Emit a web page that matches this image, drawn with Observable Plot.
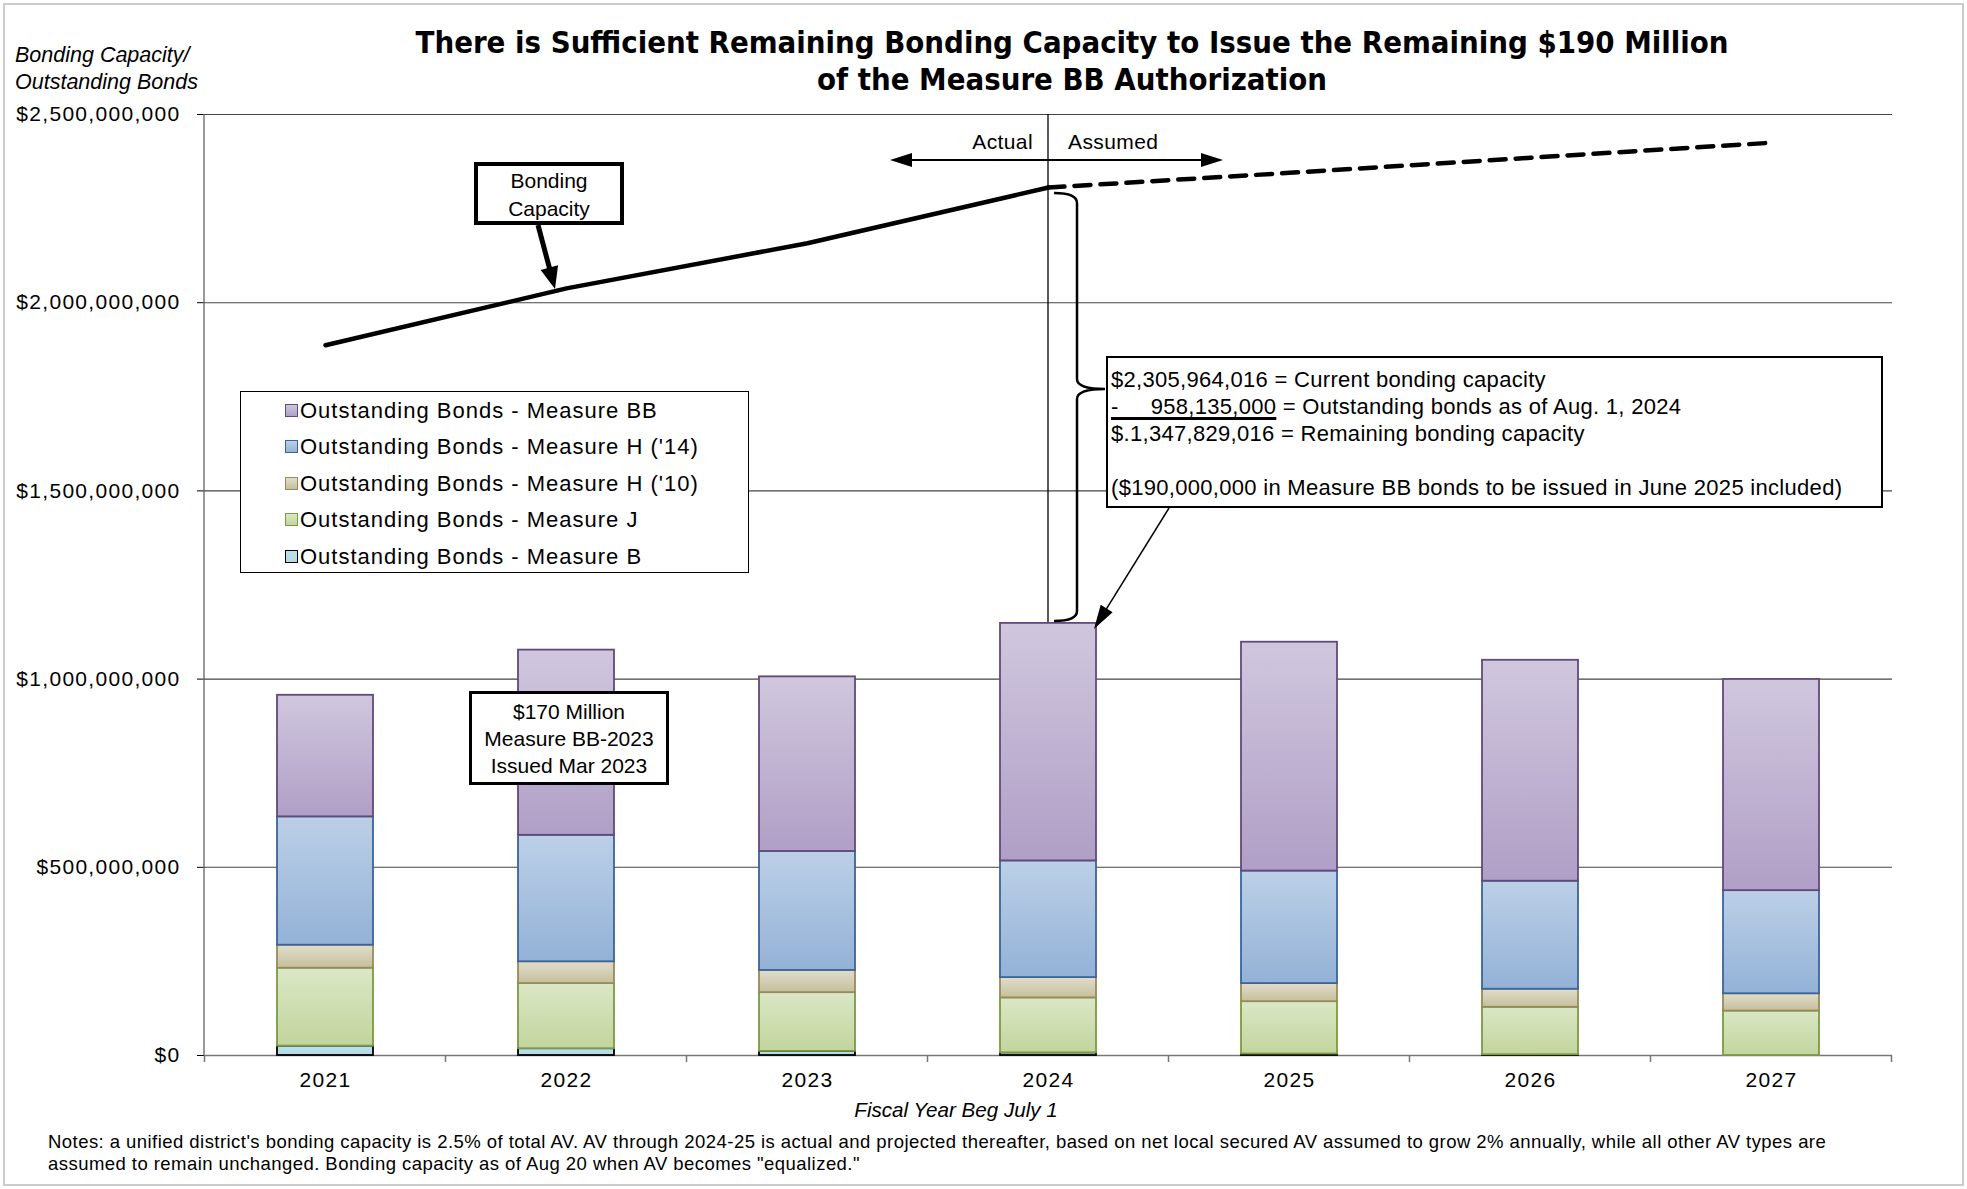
<!DOCTYPE html>
<html>
<head>
<meta charset="utf-8">
<script src="https://cdn.jsdelivr.net/npm/d3@7"></script>
<script src="https://cdn.jsdelivr.net/npm/@observablehq/plot@0.6"></script>
<style>
html, body { margin: 0; padding: 0; background: #fff; }
#wrap { position: relative; width: 1967px; height: 1189px; overflow: hidden; background: #fff;
  font-family: "Liberation Sans", Arial, sans-serif; color: #000; }
#wrap > svg { position: absolute; left: 0; top: 0; }
.frame { position: absolute; left: 3px; top: 3px; right: 3px; bottom: 3px; border: 2px solid #cccccc; pointer-events: none; }
.title { position: absolute; left: 372px; top: 24px; width: 1400px; text-align: center;
  font-family: "Liberation Sans Narrow", "DejaVu Sans Condensed", sans-serif; font-weight: bold; font-size: 30.8px; line-height: 37px; }
.ylabel { position: absolute; left: 15px; top: 42px; font-style: italic; font-size: 21.5px; line-height: 27px; }
.xlabel { position: absolute; left: 756px; width: 400px; text-align: center; top: 1097px; font-style: italic; font-size: 20.6px; line-height: 26px; }
.notes { position: absolute; left: 48px; top: 1131px; font-size: 18.5px; letter-spacing: 0.45px; line-height: 22px; white-space: nowrap; }
.box { position: absolute; box-sizing: border-box; background: #fff; border: 2.5px solid #000; }
.legend { font-size: 22px; letter-spacing: 1px; }
.legend .row { position: absolute; left: 44px; height: 36px; line-height: 36px; white-space: nowrap; }
.legend .sw { display: inline-block; width: 11px; height: 11px; border: 1.5px solid; margin-right: 2px; vertical-align: 1px; }
.calc { font-size: 22px; line-height: 27px; padding: 8px 0 0 3px; white-space: pre; letter-spacing: 0.3px; }
.calc .ul { text-decoration: underline; text-decoration-thickness: 3px; text-underline-offset: 3px; }
.issue { font-size: 21px; line-height: 27px; text-align: center; padding-top: 4px; border-width: 3px; }
.cap { font-size: 21px; line-height: 27.5px; text-align: center; padding-top: 1px; border-width: 4px; }
</style>
</head>
<body>
<div id="wrap"></div>
<script>
// ---------------- data ----------------
const years = ["2021", "2022", "2023", "2024", "2025", "2026", "2027"];
// Outstanding bonds by measure, $ millions
const measureB   = [25, 18, 11, 7, 4, 2, 0];
const measureJ   = [207, 173, 156, 146, 139, 126, 118];
const measureH10 = [61, 58, 59, 54, 48, 48, 46];
const measureH14 = [341, 336, 316, 310, 299, 287, 274];
const measureBB  = [323, 492, 464, 631, 608, 587, 561];
// Bonding capacity, $ millions
const capacityActual  = [1887, 2038, 2158, 2306];   // 2021-2024
const capacityAssumed = [2306, 2345, 2385, 2425];   // 2024-2027
const seriesLabels = [
  "Outstanding Bonds - Measure BB",
  "Outstanding Bonds - Measure H ('14)",
  "Outstanding Bonds - Measure H ('10)",
  "Outstanding Bonds - Measure J",
  "Outstanding Bonds - Measure B"
];
const yTicks = [0, 500e6, 1000e6, 1500e6, 2000e6, 2500e6];

const titleLines = ["There is Sufficient Remaining Bonding Capacity to Issue the Remaining $190 Million",
                    "of the Measure BB Authorization"];
const yLabelLines = ["Bonding Capacity/", "Outstanding Bonds"];
const xLabel = "Fiscal Year Beg July 1";
const notesLines = ["Notes: a unified district's bonding capacity is 2.5% of total AV. AV through 2024-25 is actual and projected thereafter, based on net local secured AV assumed to grow 2% annually, while all other AV types are",
                    "assumed to remain unchanged. Bonding capacity as of Aug 20 when AV becomes \"equalized.\""];
const calcLines = ["$2,305,964,016 = Current bonding capacity",
                   ["-     958,135,000", " = Outstanding bonds as of Aug. 1, 2024"],
                   "$.1,347,829,016 = Remaining bonding capacity",
                   "",
                   "($190,000,000 in Measure BB bonds to be issued in June 2025 included)"];
const issueLines = ["$170 Million", "Measure BB-2023", "Issued Mar 2023"];
const capLines = ["Bonding", "Capacity"];

// ---------------- styles ----------------
const seriesStyle = {
  BB:  {id: "gBB",  top: "#D0C7DE", bottom: "#B09FC6", stroke: "#604A7B"},
  H14: {id: "gH14", top: "#BCD0E7", bottom: "#93B2D7", stroke: "#3B649A"},
  H10: {id: "gH10", top: "#E1DDCB", bottom: "#C6BF9C", stroke: "#968B59"},
  J:   {id: "gJ",   top: "#DBE7C6", bottom: "#C2D59D", stroke: "#7C9A42"},
  B:   {id: "gB",   top: "#BBE0EA", bottom: "#B2DAE5", stroke: "#000000"}
};
// bottom -> top stacking order
const stackOrder = [["B", measureB, 4], ["J", measureJ, 3], ["H10", measureH10, 2], ["H14", measureH14, 1], ["BB", measureBB, 0]];

const table = [];
years.forEach((yr, i) => {
  for (const [key, arr, li] of stackOrder) table.push({year: yr, key, series: seriesLabels[li], value: arr[i] * 1e6});
});
const capActualRows = capacityActual.map((v, i) => ({year: years[i], value: v * 1e6}));
const capAssumedRows = capacityAssumed.map((v, i) => ({year: years[i + 3], value: v * 1e6}));
const totals = years.map((yr, i) => d3.sum(stackOrder, ([, arr]) => arr[i]) * 1e6);

// layout of annotation boxes (pixels)
const LAY = {
  legend: {left: 240, top: 391, width: 509, height: 182},
  calc:   {left: 1106, top: 356, width: 777, height: 152},
  issue:  {left: 469, top: 691, width: 200, height: 94},
  cap:    {left: 474, top: 162, width: 150, height: 63}
};

function arrowTo(g, x0, y0, x1, y1, w, hl, hw) {
  const dx = x1 - x0, dy = y1 - y0, len = Math.hypot(dx, dy), ux = dx / len, uy = dy / len;
  const bx = x1 - ux * hl, by = y1 - uy * hl;
  g.append("line").attr("x1", x0).attr("y1", y0).attr("x2", bx + ux * 1).attr("y2", by + uy * 1)
    .attr("stroke", "#000").attr("stroke-width", w);
  g.append("path").attr("d", `M${x1},${y1}L${bx - uy * hw},${by + ux * hw}L${bx + uy * hw},${by - ux * hw}Z`).attr("fill", "#000");
}

function annotations(index, scales, values, dimensions) {
  const {x, y} = scales;
  const bw = x.bandwidth(), step = x.step();
  const g = d3.create("svg:g");
  // gradients
  const defs = g.append("defs");
  for (const s of Object.values(seriesStyle)) {
    const lg = defs.append("linearGradient").attr("id", s.id).attr("x1", 0).attr("y1", 0).attr("x2", 0).attr("y2", 1);
    lg.append("stop").attr("offset", "0%").attr("stop-color", s.top);
    lg.append("stop").attr("offset", "100%").attr("stop-color", s.bottom);
  }
  const y0 = y(0), yTop = y(yTicks[yTicks.length - 1]);
  // left axis line
  g.append("line").attr("x1", dimensions.marginLeft).attr("x2", dimensions.marginLeft)
    .attr("y1", yTop).attr("y2", y0).attr("stroke", "#777").attr("stroke-width", 1.5);
  // x tick marks at band boundaries
  years.forEach((yr, i) => {
    const b = x(yr) - (step - bw) / 2;
    g.append("line").attr("x1", b).attr("x2", b).attr("y1", y0).attr("y2", y0 + 7).attr("stroke", "#777").attr("stroke-width", 1.5);
    if (i === years.length - 1) {
      const e = b + step;
      g.append("line").attr("x1", e).attr("x2", e).attr("y1", y0).attr("y2", y0 + 7).attr("stroke", "#777").attr("stroke-width", 1.5);
    }
  });
  return g.node();
}

function overlay(index, scales) {
  const {x, y} = scales;
  const bw = x.bandwidth();
  const cx = yr => x(yr) + bw / 2;
  const g = d3.create("svg:g");
  const c = cx("2024");
  const yTop = y(yTicks[yTicks.length - 1]);
  const capY = y(capacityActual[3] * 1e6);
  const barTop = y(totals[3]);
  // Actual / Assumed divider
  g.append("line").attr("x1", c).attr("x2", c).attr("y1", yTop).attr("y2", barTop - 1).attr("stroke", "#000").attr("stroke-width", 1.3);
  const ay = yTop + 46;
  arrowTo(g, c, ay, c - 158, ay, 2, 22, 7);
  arrowTo(g, c, ay, c + 175, ay, 2, 22, 7);
  g.append("text").attr("x", c - 15).attr("y", ay - 11).attr("text-anchor", "end").attr("font-size", 21).attr("letter-spacing", 0.4).text("Actual");
  g.append("text").attr("x", c + 20).attr("y", ay - 11).attr("text-anchor", "start").attr("font-size", 21).attr("letter-spacing", 0.4).text("Assumed");
  // brace from capacity down to 2024 bar top
  const t = capY + 6, b = barTop - 2, m = LAY.calc.top + 33, bx = c + 29, tip = LAY.calc.left - 1;
  g.append("path").attr("fill", "none").attr("stroke", "#000").attr("stroke-width", 2.5)
    .attr("d", `M${c + 6},${t}Q${bx},${t} ${bx},${t + 10}L${bx},${m - 10}Q${bx},${m} ${tip},${m}` +
               `M${tip},${m}Q${bx},${m} ${bx},${m + 10}L${bx},${b - 10}Q${bx},${b} ${c + 6},${b}`);
  // arrow from calc box to 2024 bar top
  arrowTo(g, LAY.calc.left + 63, LAY.calc.top + LAY.calc.height, c + bw / 2 - 2, barTop + 6, 1.5, 24, 7);
  // bonding capacity label arrow
  arrowTo(g, LAY.cap.left + 64, LAY.cap.top + LAY.cap.height, cx("2022") - 11, y(capacityActual[1] * 1e6) + 1, 5, 22, 9);
  return g.node();
}

const chart = Plot.plot({
  width: 1967,
  height: 1189,
  marginLeft: 204,
  marginRight: 75,
  marginTop: 114,
  marginBottom: 134,
  style: {fontFamily: "'Liberation Sans', Arial, sans-serif", fontSize: "21px", letterSpacing: "1.3px", background: "transparent", color: "#000"},
  x: {type: "band", domain: years, paddingInner: 0.6, paddingOuter: 0.3, tickSize: 0, tickPadding: 17, label: null},
  y: {domain: [0, 2.5e9], ticks: yTicks, tickSize: 7, tickPadding: 17, label: null,
      tickFormat: d => "$" + d3.format(",")(d)},
  color: {type: "identity"},
  marks: [
    annotations,
    Plot.ruleY(yTicks, {stroke: d => d === 0 ? "#777" : "#444", strokeWidth: d => d === 0 ? 1.5 : 1.1}),
    Plot.barY(table, {x: "year", y: "value",
      fill: d => `url(#${seriesStyle[d.key].id})`,
      stroke: d => seriesStyle[d.key].stroke, strokeWidth: 1.8}),
    Plot.line(capActualRows, {x: "year", y: "value", stroke: "#000", strokeWidth: 4.5, strokeLinejoin: "round"}),
    Plot.line(capAssumedRows, {x: "year", y: "value", stroke: "#000", strokeWidth: 4.5, strokeDasharray: "16,10"}),
    overlay
  ]
});

const wrap = document.getElementById("wrap");
wrap.appendChild(chart);

function addDiv(cls, css, html) {
  const d = document.createElement("div");
  d.className = cls;
  Object.assign(d.style, css);
  if (html != null) d.innerHTML = html;
  wrap.appendChild(d);
  return d;
}
const esc = s => s.replace(/&/g, "&amp;").replace(/</g, "&lt;");
const px = o => ({left: o.left + "px", top: o.top + "px", width: o.width + "px", height: o.height + "px"});

addDiv("title", {}, titleLines.map(esc).join("<br>"));
addDiv("ylabel", {}, yLabelLines.map(esc).join("<br>"));
addDiv("xlabel", {}, esc(xLabel));
addDiv("notes", {}, notesLines.map(esc).join("<br>"));

// legend
const leg = addDiv("box legend", px(LAY.legend));
leg.style.borderWidth = "1.8px";
const legKeys = ["BB", "H14", "H10", "J", "B"];
seriesLabels.forEach((lab, i) => {
  const s = seriesStyle[legKeys[i]];
  const r = document.createElement("div");
  r.className = "row";
  r.style.top = (1 + i * 36.4) + "px";
  r.innerHTML = `<span class="sw" style="border-color:${s.stroke};background:linear-gradient(${s.top},${s.bottom})"></span>${esc(lab)}`;
  leg.appendChild(r);
});

// calculation box
addDiv("box calc", px(LAY.calc), calcLines.map(l => Array.isArray(l)
  ? `<span class="ul">${esc(l[0])}</span>${esc(l[1])}` : (l === "" ? "&nbsp;" : esc(l))).join("<br>"));
// issue box
addDiv("box issue", px(LAY.issue), issueLines.map(esc).join("<br>"));
// bonding capacity box
addDiv("box cap", px(LAY.cap), capLines.map(esc).join("<br>"));
addDiv("frame", {});
</script>
</body>
</html>
